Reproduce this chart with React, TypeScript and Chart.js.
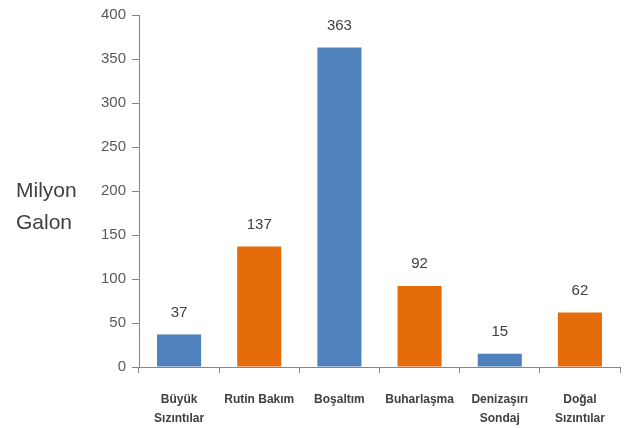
import React, { useEffect, useRef } from "react";
import { Chart, registerables } from "chart.js";

Chart.register(...registerables);

const categories: string[][] = [
  ["Büyük", "Sızıntılar"],
  ["Rutin Bakım"],
  ["Boşaltım"],
  ["Buharlaşma"],
  ["Denizaşırı", "Sondaj"],
  ["Doğal", "Sızıntılar"],
];
const values: number[] = [37, 137, 363, 92, 15, 62];
const barColors: string[] = ["#4F81BD", "#E46C0A", "#4F81BD", "#E46C0A", "#4F81BD", "#E46C0A"];
const yTitle: string[] = ["Milyon", "Galon"];
const yMin = 0;
const yMax = 400;
const yStep = 50;

const FONT = "'Liberation Sans', Arial, sans-serif";

const valueLabels = {
  id: "valueLabels",
  afterDatasetsDraw(chart: any) {
    const ctx = chart.ctx;
    const meta = chart.getDatasetMeta(0);
    ctx.save();
    ctx.font = `15px ${FONT}`;
    ctx.fillStyle = "#404040";
    ctx.textAlign = "center";
    ctx.textBaseline = "middle";
    meta.data.forEach((bar: any, i: number) => {
      ctx.fillText(String(values[i]), bar.x, bar.y - 22);
    });
    ctx.restore();
  },
};

const yTitlePlugin = {
  id: "yTitlePlugin",
  afterDraw(chart: any) {
    const ctx = chart.ctx;
    const area = chart.chartArea;
    const mid = (area.top + area.bottom) / 2;
    ctx.save();
    ctx.font = `21px ${FONT}`;
    ctx.fillStyle = "#404040";
    ctx.textAlign = "left";
    ctx.textBaseline = "middle";
    ctx.fillText(yTitle[0], 16, mid);
    ctx.fillText(yTitle[1], 16, mid + 32);
    ctx.restore();
  },
};

export default function App() {
  const ref = useRef<HTMLCanvasElement | null>(null);
  useEffect(() => {
    if (!ref.current) return;
    const chart = new Chart(ref.current, {
      type: "bar",
      data: {
        labels: categories,
        datasets: [
          {
            data: values,
            backgroundColor: barColors,
            borderWidth: 0,
            barPercentage: 0.55,
            categoryPercentage: 1,
          },
        ],
      },
      options: {
        animation: false,
        responsive: false,
        maintainAspectRatio: false,
        layout: { padding: { left: 0, right: 7, top: 13, bottom: 0 } },
        plugins: {
          legend: { display: false },
          tooltip: { enabled: false },
        },
        scales: {
          x: {
            grid: {
              display: true,
              drawOnChartArea: false,
              drawTicks: true,
              tickLength: 6,
              color: "#868686",
              offset: true,
            },
            border: { display: true, color: "#868686", width: 1 },
            ticks: {
              font: { family: FONT, size: 12, weight: "bold", lineHeight: 1.6 },
              color: "#404040",
              padding: 17,
              maxRotation: 0,
              autoSkip: false,
            },
            afterFit(scale: any) {
              scale.height = 61;
            },
          },
          y: {
            min: yMin,
            max: yMax,
            ticks: {
              stepSize: yStep,
              font: { family: FONT, size: 15 },
              color: "#595959",
              padding: 6,
            },
            grid: {
              display: true,
              drawOnChartArea: false,
              drawTicks: true,
              tickLength: 7,
              color: "#868686",
            },
            border: { display: true, color: "#868686", width: 1 },
            afterFit(scale: any) {
              scale.width = 139;
            },
          },
        },
      },
      plugins: [valueLabels, yTitlePlugin],
    });
    return () => chart.destroy();
  }, []);
  return (
    <div style={{ position: "fixed", left: 0, top: 0, width: 627, height: 428, background: "#fff" }}>
      <canvas ref={ref} width={627} height={428} style={{ width: 627, height: 428 }} />
    </div>
  );
}
